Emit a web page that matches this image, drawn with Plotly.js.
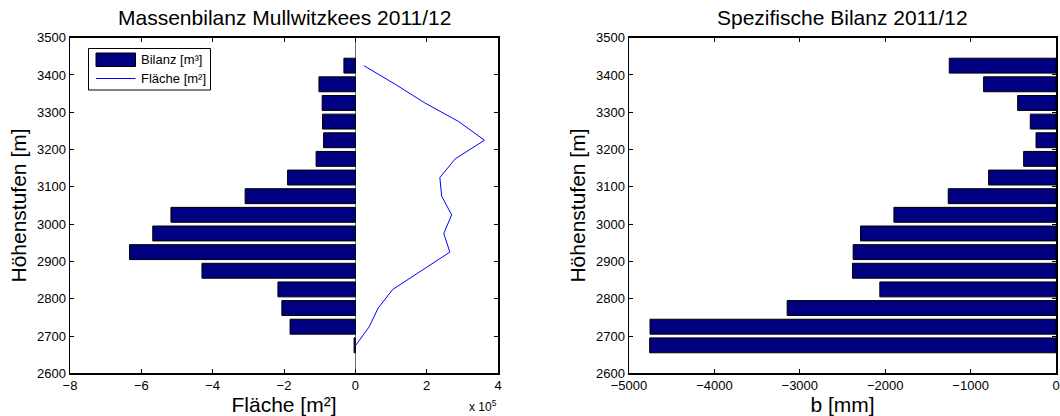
<!DOCTYPE html>
<html>
<head>
<meta charset="utf-8">
<script src="https://cdn.plot.ly/plotly-3.0.1.min.js"></script>
<style>html,body{margin:0;padding:0;background:#fff;}#chart{width:1060px;height:416px;}</style>
</head>
<body>
<div id="chart"></div>
<script>
// Elevation bands (m), band centres
const hoehenstufen = [2675, 2725, 2775, 2825, 2875, 2925, 2975, 3025, 3075, 3125, 3175, 3225, 3275, 3325, 3375, 3425];
// Mass balance per band (m³)
const bilanz = [-3500, -183000, -206000, -217000, -430000, -633000, -568000, -517000, -309000, -190000, -110000, -89000, -92000, -93000, -102000, -32000];
// Area per band (m²)
const flaeche = [1000, 39000, 64000, 105000, 185000, 265000, 248000, 270000, 242000, 237000, 280000, 362000, 290000, 195000, 112000, 24000];
// Specific balance per band (mm w.e.)
const spezBilanz = [-4758, -4754, -3148, -2063, -2383, -2375, -2289, -1898, -1262, -789, -379, -234, -301, -449, -848, -1250];

// Tick labels
const xTicksLeft = [-800000, -600000, -400000, -200000, 0, 200000, 400000];
const xTickTextLeft = ['\u22128', '\u22126', '\u22124', '\u22122', '0', '2', '4'];
const xTicksRight = [-5000, -4000, -3000, -2000, -1000, 0];
const xTickTextRight = ['\u22125000', '\u22124000', '\u22123000', '\u22122000', '\u22121000', '0'];
const yTicks = [2600, 2700, 2800, 2900, 3000, 3100, 3200, 3300, 3400, 3500];

// Legend labels
const legendLabels = ['Bilanz [m\u00b3]', 'Fl\u00e4che [m\u00b2]'];

const FONT = 'Liberation Sans, Arial, Helvetica, sans-serif';
const W = 1060, H = 416;
const px = v => v / W;
const py = v => 1 - v / H;
const NAVY = '#000080';

const traces = [
  {
    type: 'bar', orientation: 'h', name: legendLabels[0],
    x: bilanz, y: hoehenstufen, xaxis: 'x', yaxis: 'y',
    marker: {color: NAVY, line: {color: '#000000', width: 1}}
  },
  {
    type: 'scatter', mode: 'lines', name: legendLabels[1],
    x: flaeche, y: hoehenstufen, xaxis: 'x', yaxis: 'y',
    line: {color: '#0000FF', width: 1}
  },
  {
    type: 'bar', orientation: 'h', name: 'b [mm]',
    x: spezBilanz, y: hoehenstufen, xaxis: 'x2', yaxis: 'y2',
    marker: {color: NAVY, line: {color: '#000000', width: 1}}
  }
];

const axisCommon = {
  showgrid: false, showline: true, linecolor: '#000', linewidth: 1.5,
  mirror: 'ticks', ticks: 'inside', ticklen: 4, tickcolor: '#000', tickwidth: 1,
  tickfont: {family: FONT, size: 13, color: '#000'}, automargin: false
};
const titleFont = {family: FONT, size: 21, color: '#000'};

const layout = {
  width: W, height: H,
  margin: {l: 0, r: 0, t: 0, b: 0, pad: 0},
  paper_bgcolor: '#fff', plot_bgcolor: '#fff',
  bargap: 0.2,
  font: {family: FONT, color: '#000'},
  showlegend: false,
  xaxis: Object.assign({}, axisCommon, {
    domain: [px(70), px(498)], anchor: 'y',
    range: [-800000, 400000], tickmode: 'array', tickvals: xTicksLeft, ticktext: xTickTextLeft,
    zeroline: true, zerolinecolor: '#6e6e6e', zerolinewidth: 1,
    title: {text: 'Fl\u00e4che [m\u00b2]', font: titleFont, standoff: 3}
  }),
  yaxis: Object.assign({}, axisCommon, {
    domain: [py(373.3), py(37.7)], anchor: 'x',
    range: [2600, 3500], tickmode: 'array', tickvals: yTicks, zeroline: false,
    title: {text: 'H\u00f6henstufen [m]', font: titleFont, standoff: 4}
  }),
  xaxis2: Object.assign({}, axisCommon, {
    domain: [px(629), px(1056)], anchor: 'y2',
    range: [-5000, 0], tickmode: 'array', tickvals: xTicksRight, ticktext: xTickTextRight,
    zeroline: false,
    title: {text: 'b [mm]', font: titleFont, standoff: 3}
  }),
  yaxis2: Object.assign({}, axisCommon, {
    domain: [py(373.3), py(37.7)], anchor: 'x2',
    range: [2600, 3500], tickmode: 'array', tickvals: yTicks, zeroline: false,
    title: {text: 'H\u00f6henstufen [m]', font: titleFont, standoff: 4}
  }),
  shapes: [
    // legend frame
    {type: 'rect', xref: 'paper', yref: 'paper', x0: px(88.5), x1: px(210.5), y0: py(90), y1: py(48.5),
     line: {color: '#000', width: 1}, fillcolor: '#fff', layer: 'above'},
    // bar swatch
    {type: 'rect', xref: 'paper', yref: 'paper', x0: px(96), x1: px(135.5), y0: py(66.5), y1: py(53),
     line: {color: '#000', width: 1}, fillcolor: NAVY, layer: 'above'},
    // line swatch
    {type: 'line', xref: 'paper', yref: 'paper', x0: px(96), x1: px(135.5), y0: py(78.5), y1: py(78.5),
     line: {color: '#0000FF', width: 1}, layer: 'above'}
  ],
  annotations: [
    {text: 'Massenbilanz Mullwitzkees 2011/12', xref: 'paper', yref: 'paper',
     x: px(284), y: py(18), xanchor: 'center', yanchor: 'middle', showarrow: false, font: titleFont},
    {text: 'Spezifische Bilanz 2011/12', xref: 'paper', yref: 'paper',
     x: px(842), y: py(18), xanchor: 'center', yanchor: 'middle', showarrow: false, font: titleFont},
    {text: 'x 10<sup>5</sup>', xref: 'paper', yref: 'paper',
     x: px(499), y: py(406), xanchor: 'right', yanchor: 'middle', showarrow: false,
     font: {family: FONT, size: 12, color: '#000'}},
    {text: legendLabels[0], xref: 'paper', yref: 'paper',
     x: px(139), y: py(60), xanchor: 'left', yanchor: 'middle', showarrow: false,
     font: {family: FONT, size: 13, color: '#000'}},
    {text: legendLabels[1], xref: 'paper', yref: 'paper',
     x: px(139), y: py(78.5), xanchor: 'left', yanchor: 'middle', showarrow: false,
     font: {family: FONT, size: 13, color: '#000'}}
  ]
};

Plotly.newPlot('chart', traces, layout, {staticPlot: true, displayModeBar: false});
</script>
</body>
</html>
